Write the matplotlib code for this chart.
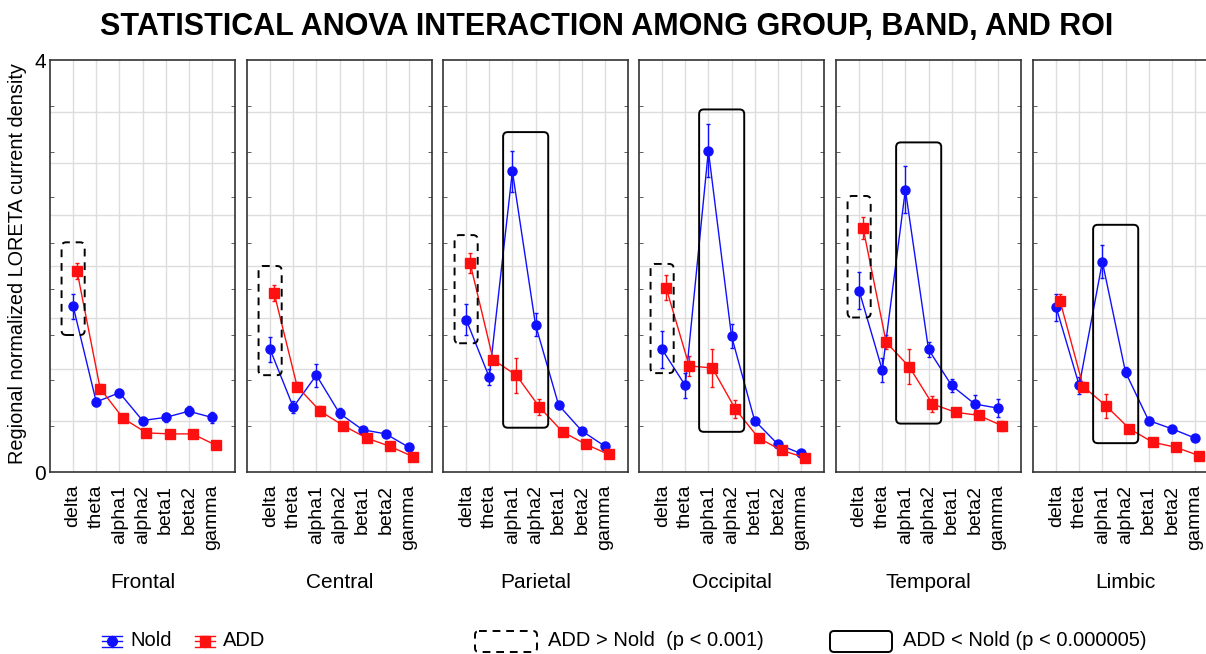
import numpy as np
import matplotlib
matplotlib.use("Agg")
import matplotlib.pyplot as plt
from matplotlib.patches import FancyBboxPatch

plt.rcParams["font.family"] = ["Liberation Sans", "DejaVu Sans"]

bands = ["delta", "theta", "alpha1", "alpha2", "beta1", "beta2", "gamma"]
regions = ["Frontal", "Central", "Parietal", "Occipital", "Temporal", "Limbic"]

# group means per region (rows) and band (columns)
nold_mean = [
    [1.61, 0.68, 0.77, 0.50, 0.53, 0.59, 0.53],
    [1.19, 0.63, 0.94, 0.57, 0.41, 0.37, 0.24],
    [1.48, 0.92, 2.92, 1.43, 0.65, 0.40, 0.25],
    [1.19, 0.84, 3.12, 1.32, 0.50, 0.27, 0.18],
    [1.76, 0.99, 2.74, 1.19, 0.84, 0.66, 0.62],
    [1.60, 0.84, 2.04, 0.97, 0.50, 0.42, 0.33],
]
nold_err = [
    [0.12, 0.04, 0.04, 0.03, 0.04, 0.05, 0.05],
    [0.12, 0.06, 0.11, 0.05, 0.03, 0.03, 0.03],
    [0.15, 0.08, 0.20, 0.11, 0.03, 0.03, 0.03],
    [0.18, 0.12, 0.26, 0.12, 0.03, 0.03, 0.03],
    [0.18, 0.12, 0.23, 0.07, 0.06, 0.09, 0.09],
    [0.13, 0.08, 0.16, 0.05, 0.03, 0.03, 0.03],
]
add_mean = [
    [1.95, 0.81, 0.52, 0.38, 0.37, 0.37, 0.26],
    [1.74, 0.83, 0.59, 0.45, 0.33, 0.25, 0.15],
    [2.03, 1.09, 0.94, 0.63, 0.39, 0.27, 0.17],
    [1.79, 1.03, 1.01, 0.61, 0.33, 0.21, 0.14],
    [2.37, 1.26, 1.02, 0.66, 0.58, 0.55, 0.45],
    [1.66, 0.83, 0.64, 0.42, 0.29, 0.24, 0.16],
]
add_err = [
    [0.08, 0.04, 0.03, 0.03, 0.03, 0.04, 0.04],
    [0.08, 0.04, 0.05, 0.03, 0.03, 0.03, 0.03],
    [0.10, 0.04, 0.17, 0.08, 0.03, 0.03, 0.03],
    [0.12, 0.10, 0.18, 0.09, 0.03, 0.03, 0.03],
    [0.11, 0.07, 0.17, 0.08, 0.04, 0.04, 0.05],
    [0.07, 0.04, 0.12, 0.04, 0.03, 0.03, 0.03],
]

# significance boxes: (y_low, y_high); None where there is no box
gt_boxes = [(1.33, 2.23), (0.94, 2.00), (1.25, 2.30), (0.96, 2.02), (1.50, 2.68), None]
lt_boxes = [None, None, (0.43, 3.30), (0.39, 3.52), (0.47, 3.20), (0.28, 2.40)]
gt_span = (-0.5, 0.5)
lt_span = (1.6, 3.55)

BLUE = "#1010ff"
RED = "#ff1010"
W, H = 1206, 654

fig = plt.figure(figsize=(W / 100, H / 100), dpi=100)

lefts = [50, 247, 443, 639, 836, 1033]
pw, top, bottom = 185, 60, 472
x = np.arange(len(bands))


def rbox(ax, x0, x1, y0, y1, ls):
    # rounded corners that stay round despite the unequal data aspect
    box = FancyBboxPatch((x0, y0), x1 - x0, y1 - y0,
                         boxstyle="round,pad=0,rounding_size=0.2",
                         mutation_aspect=0.223, fill=False, ec="black",
                         lw=1.4, ls=ls, zorder=5)
    ax.add_patch(box)


for i, reg in enumerate(regions):
    ax = fig.add_axes([lefts[i] / W, (H - bottom) / H, pw / W, (bottom - top) / H])
    ax.set_xlim(-1, 7)
    ax.set_ylim(0, 4)
    for yv in np.arange(0.5, 4, 0.5):
        ax.axhline(yv, color="#dddddd", lw=1, zorder=0)
    ax.set_xticks(x)
    ax.set_xticklabels(bands, rotation=90, fontsize=14)
    ax.grid(axis="x", color="#dddddd", lw=1, zorder=0)
    ax.tick_params(axis="x", length=0, pad=9)
    ax.set_yticks([0, 4])
    ax.set_yticks(np.arange(1, 9) * 4 / 9, minor=True)
    ax.tick_params(axis="y", which="major", length=0, labelsize=15, pad=3)
    ax.tick_params(axis="y", which="minor", direction="in", length=3,
                   left=True, right=True, color="#444444")
    if i > 0:
        ax.set_yticklabels([])
    for s in ax.spines.values():
        s.set_color("#333333")
        s.set_linewidth(1.2)

    ax.errorbar(x, nold_mean[i], yerr=nold_err[i], color=BLUE, marker="o",
                ms=6.5, lw=1, elinewidth=1, capsize=1.5, zorder=3)
    ax.errorbar(x + 0.17, add_mean[i], yerr=add_err[i], color=RED, marker="s",
                ms=7, lw=1, elinewidth=1, capsize=1.5, zorder=3)

    if gt_boxes[i]:
        rbox(ax, gt_span[0], gt_span[1], gt_boxes[i][0], gt_boxes[i][1], (0, (4, 3)))
    if lt_boxes[i]:
        rbox(ax, lt_span[0], lt_span[1], lt_boxes[i][0], lt_boxes[i][1], "-")

    fig.text((lefts[i] + pw / 2) / W, 1 - 583 / H, reg, ha="center",
             va="center", fontsize=15)

fig.text(18 / W, 1 - 264 / H, "Regional normalized LORETA current density",
         rotation=90, ha="center", va="center", fontsize=14.3)
fig.text(607 / W, 1 - 27 / H,
         "STATISTICAL ANOVA INTERACTION AMONG GROUP, BAND, AND ROI",
         ha="center", va="center", fontsize=22, fontweight="bold")

# legend row drawn on an overlay in pixel coordinates
lg = fig.add_axes([0, 0, 1, 1], facecolor="none")
lg.set_xlim(0, W)
lg.set_ylim(H, 0)
lg.axis("off")
for cx, col, mk, label in [(112, BLUE, "o", "Nold"), (205, RED, "s", "ADD")]:
    lg.plot([cx - 10, cx + 10], [641, 641], color=col, lw=1)
    lg.plot([cx - 10, cx + 10], [636, 636], color=col, lw=1)
    lg.plot([cx - 10, cx + 10], [647, 647], color=col, lw=1)
    lg.plot([cx, cx], [636, 647], color=col, lw=1)
    lg.plot(cx, 641, marker=mk, color=col, ms=7)
    lg.text(cx + 18, 641, label, fontsize=14.5, va="center")

for x0, ls, label in [(475, (0, (4, 3)), "ADD > Nold  (p < 0.001)"),
                      (830, "-", "ADD < Nold (p < 0.000005)")]:
    lg.add_patch(FancyBboxPatch((x0, 631), 62, 21,
                                boxstyle="round,pad=0,rounding_size=4",
                                fill=False, ec="black", lw=1.4, ls=ls))
    lg.text(x0 + 73, 641, label, fontsize=14.5, va="center")

fig.savefig("out.png", dpi=100)
